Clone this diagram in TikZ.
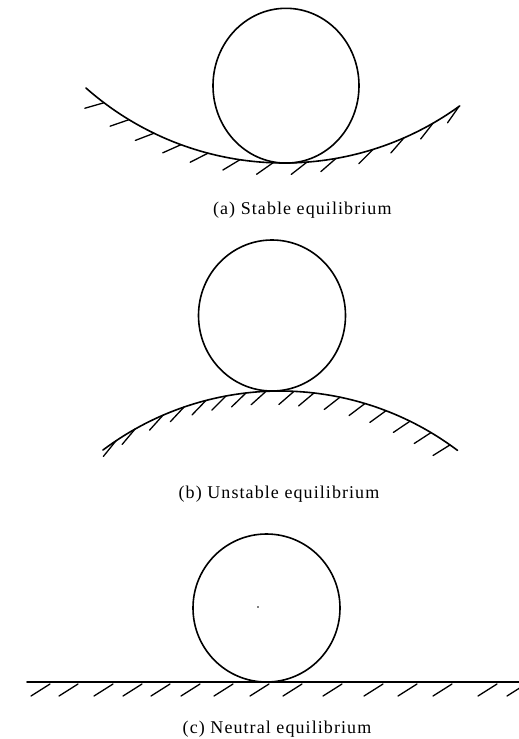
\documentclass[tikz,border=0pt]{standalone}
\usepackage{fontspec}
\setmainfont{Liberation Serif}
\begin{document}
\begin{tikzpicture}[x=1pt,y=-1pt,
  surface/.style={line width=1.6pt, line cap=round},
  hatchline/.style={line width=1.3pt, line cap=round},
  ball/.style={line width=1.6pt},
  caption/.style={font=\fontsize{18}{20}\selectfont\addfontfeature{LetterSpace=6}, anchor=base, inner sep=0pt}]
\useasboundingbox (0,0) rectangle (519,739);

% ---------- (a) stable ----------
\draw[ball] (286,85.7) ellipse [x radius=73, y radius=77.4];
\draw[surface] plot[domain=131.5:54, samples=120] ({284+299*cos(\x)},{-136+299*sin(\x)});
\foreach \x/\a in {104/196,129/199,154/201,181/204,208/207,240/211,273/215,307/218,336/221,373/225,404/229,433/232,459/235}
  \draw[hatchline] ({\x},{-136+299*sin(acos((\x-284)/299))}) -- ++({20*cos(\a)},{-20*sin(\a)});
\node[caption] (capa) at (302.3,214) {(a) Stable equilibrium};

% ---------- (b) unstable ----------
\draw[ball] (272,315.5) ellipse [x radius=73.5, y radius=75.5];
\draw[surface] plot[domain=233.1:307, samples=120] ({280+295*cos(\x)},{686+295*sin(\x)});
\foreach \x/\a in {116/231,135/230,163/228,184/227,206/226,226/225,246/224,266/222,294/221,314/220,340/218,365/217,386/216,410/214,431/213,450/212}
  \draw[hatchline] ({\x},{686-295*sin(acos((\x-280)/295))}) -- ++({20*cos(\a)},{-20*sin(\a)});
\node[caption] (capb) at (279,498.5) {(b) Unstable equilibrium};

% ---------- (c) neutral ----------
\draw[ball] (266.5,608) ellipse [x radius=73.5, y radius=74];
\fill (258,607) circle [radius=0.8];
\draw[surface] (27,682) -- (525,682);
\foreach \x in {50,78,113,142,170,200,233,269,302,342,383,417,452,497,526}
  \draw[hatchline] (\x,684) -- ++(-19,12);
\node[caption] (capc) at (277,733.5) {(c) Neutral equilibrium};
\end{tikzpicture}
\end{document}
